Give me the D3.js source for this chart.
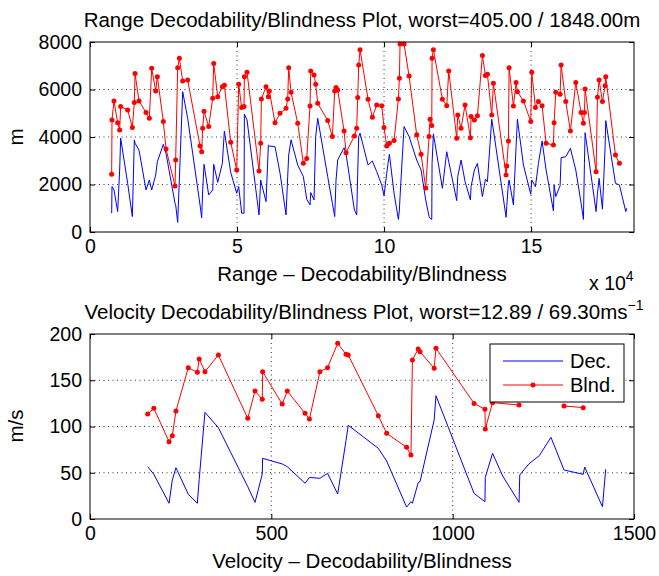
<!DOCTYPE html>
<html>
<head>
<meta charset="utf-8">
<script src="https://cdn.jsdelivr.net/npm/d3@7"></script>
<style>
  html, body { margin: 0; padding: 0; background: #fff; }
  svg { display: block; }
  text { font-family: "Liberation Sans", Arial, Helvetica, sans-serif; fill: #000; }
</style>
</head>
<body>
<svg id="fig" width="659" height="576"></svg>
<script>
// ---- Range decodability / blindness (m) ----
const rangeX = [7370, 7480, 8160, 9410, 10090, 10430, 12810, 14400, 15080, 15310, 16670, 19050, 20180, 20980, 22340, 22900, 24940, 25850, 28910, 29140, 29820, 30390, 31520, 33220, 37420, 37980, 38320, 38780, 40360, 41730, 42070, 43430, 45010, 45690, 47850, 49890, 50570, 51590, 52380, 52500, 53400, 57480, 58050, 58280, 59870, 60660, 61000, 62930, 64630, 66670, 67230, 67570, 68370, 70640, 72560, 73700, 74830, 75060, 76190, 76760, 77440, 80840, 82430, 83220, 83670, 84240, 86400, 87080, 89910, 90700, 91040, 91380, 91840, 94560, 96030, 97510, 99210, 100000, 100910, 101360, 101820, 103400, 104880, 105220, 105440, 106800, 108510, 111110, 112590, 114170, 115310, 115650, 116220, 116330, 116780, 119840, 121320, 122000, 124720, 125060, 126190, 127550, 129370, 129590, 130730, 131750, 133450, 134470, 135150, 136620, 137190, 141500, 141730, 142290, 142520, 143990, 144900, 145350, 147400, 149890, 150230, 151480, 152500, 153740, 155110, 157600, 157830, 158390, 159870, 160210, 161790, 163380, 165200, 167010, 167800, 168140, 168370, 172110, 172570, 173130, 174270, 175170, 175400, 178690, 180050, 182200, 182540];
const rangeDec = [790, 1910, 1770, 860, 2610, 3950, 2050, 650, 3880, 3740, 3450, 1770, 2190, 1770, 2400, 2960, 3690, 3310, 1210, 1140, 405, 2230, 5910, 4790, 1140, 600, 1770, 2850, 1560, 1770, 2850, 2090, 2890, 4250, 2510, 1630, 1910, 790, 790, 4960, 4720, 720, 2190, 2050, 1280, 3660, 3620, 3590, 2470, 720, 2330, 3240, 3880, 2820, 2330, 1380, 1140, 1660, 1350, 4020, 4790, 2330, 1210, 650, 2190, 3030, 3550, 3290, 930, 720, 2470, 4020, 4160, 2820, 2990, 2540, 1980, 1530, 2470, 2890, 3270, 1630, 530, 930, 1490, 4440, 4020, 3030, 2610, 1350, 650, 580, 530, 2890, 4130, 1840, 3380, 2960, 1320, 2330, 3030, 2120, 1350, 1910, 2610, 2890, 1490, 2220, 2120, 4750, 4300, 620, 1070, 2050, 2190, 1140, 3590, 4750, 2820, 1590, 2190, 1910, 2890, 3830, 2610, 890, 1980, 1490, 1950, 3130, 3170, 3520, 2610, 1210, 530, 2890, 4180, 860, 1630, 2260, 960, 3590, 4690, 2050, 1980, 860, 1000];
const rangeBlnd = [2430, 4720, 5520, 4600, 4300, 5280, 5140, 4400, 5450, 6670, 5520, 5030, 4790, 6890, 5940, 6540, 4650, 3500, 1940, 3030, 6920, 7320, 6360, 6400, 3620, 3380, 4370, 5080, 4440, 5630, 7100, 5700, 6120, 6180, 3780, 2610, 6220, 5240, 5280, 6540, 6730, 2570, 3740, 5600, 6120, 5700, 5940, 4600, 5000, 5210, 5600, 6920, 5880, 4580, 2890, 3100, 5310, 6780, 6610, 6220, 5420, 4690, 4020, 5940, 6080, 5980, 4250, 3340, 4040, 4370, 5660, 7030, 7670, 5590, 4830, 5350, 5320, 4400, 3620, 3710, 3740, 3850, 5600, 6470, 7920, 7920, 6570, 4090, 3270, 1848, 4020, 4750, 4480, 7320, 7670, 5590, 5320, 6780, 3950, 4930, 4370, 5350, 3970, 4860, 4720, 4890, 7430, 6590, 6640, 4930, 6260, 2400, 2780, 3830, 6920, 5310, 6290, 5910, 5520, 4650, 6730, 5240, 5490, 5320, 3740, 3660, 4600, 5880, 5800, 7030, 5490, 4250, 6300, 5030, 4580, 5030, 6020, 2540, 5670, 6400, 5490, 6160, 6540, 3240, 2890, null, null];
const rangeXTicks = [0, 50000, 100000, 150000];
const rangeYTicks = [0, 2000, 4000, 6000, 8000];

// ---- Velocity decodability / blindness (m/s) ----
const velDecX = [159, 176, 218, 227, 237, 271, 296, 301, 317, 354, 435, 455, 475, 476, 530, 544, 593, 605, 634, 655, 683, 706, 712, 795, 818, 873, 885, 889, 905, 910, 949, 954, 1059, 1089, 1090, 1110, 1138, 1183, 1185, 1210, 1239, 1271, 1307, 1360, 1364, 1413, 1422];
const velDec = [56.6, 48.3, 17, 42.2, 55.5, 26.7, 17, 42.5, 115.3, 98.7, 35, 18, 48.6, 65.6, 59.5, 56.6, 38.6, 45, 44, 49.4, 27, 85, 101.3, 76.4, 62.7, 12.89, 18.7, 17, 39.3, 40.4, 107, 133.3, 27.7, 18.7, 45, 71, 46.5, 18, 47.6, 59.5, 68.5, 88.3, 53, 48.3, 56.2, 13.3, 53.7];
const velBlndX = [159, 176, 218, 227, 237, 271, 296, 301, 317, 354, 435, 455, 475, 476, 530, 544, 593, 605, 634, 655, 683, 706, 712, 795, 818, 873, 885, 889, 905, 910, 949, 954, 1059, 1089, 1090, 1110, 1183, 1185, 1307, 1360];
const velBlnd = [113.5, 119.6, 83.6, 90.1, 116.8, 163.6, 158.6, 173, 159.3, 177.3, 108.8, 138.4, 129.4, 159.3, 124.3, 138.4, 114.2, 108.1, 159.3, 163.6, 189.9, 178, 177.3, 111.7, 92.6, 77.5, 69.3, 171.9, 183.8, 180.9, 162.9, 184.5, 125, 118.6, 97.3, 125.8, 123.2, null, 122.2, 120.4];
const velXTicks = [0, 500, 1000, 1500];
const velYTicks = [0, 50, 100, 150, 200];

const legendLabels = ["Dec.", "Blnd."];

const svg = d3.select("#fig");
svg.append("rect").attr("width", 659).attr("height", 576).attr("fill", "#fff");

const FS = 19.5;      // tick labels
const FT = 20.5;      // titles and axis labels
const DEC = "#0000ff", BLND = "#ff0000";

function panel(opt) {
  const { left, right, top, bottom } = opt.box;
  const x = d3.scaleLinear().domain(opt.xDomain).range([left, right]);
  const y = d3.scaleLinear().domain(opt.yDomain).range([bottom, top]);
  const g = svg.append("g");

  // dotted grid
  const grid = g.append("g").attr("stroke", "#000").attr("stroke-width", 1)
    .attr("stroke-dasharray", "1,3.5").attr("opacity", 0.8);
  opt.xTicks.filter(v => v > opt.xDomain[0] && v < opt.xDomain[1]).forEach(v => {
    grid.append("line").attr("x1", x(v)).attr("x2", x(v)).attr("y1", top).attr("y2", bottom);
  });
  opt.yTicks.filter(v => v > opt.yDomain[0] && v < opt.yDomain[1]).forEach(v => {
    grid.append("line").attr("x1", left).attr("x2", right).attr("y1", y(v)).attr("y2", y(v));
  });

  // series (null values leave a gap in the line)
  const dec = opt.decX.map((v, i) => [v, opt.dec[i]]);
  const blnd = opt.blndX.map((v, i) => [v, opt.blnd[i]]);
  const line = d3.line().defined(d => d[1] != null).x(d => x(d[0])).y(d => y(d[1]));
  g.append("path").datum(dec).attr("d", line).attr("fill", "none")
    .attr("stroke", DEC).attr("stroke-width", 1);
  g.append("path").datum(blnd).attr("d", line).attr("fill", "none")
    .attr("stroke", BLND).attr("stroke-width", 1);
  g.append("g").selectAll("circle").data(blnd.filter(d => d[1] != null)).join("circle")
    .attr("cx", d => x(d[0])).attr("cy", d => y(d[1])).attr("r", 2.5).attr("fill", BLND);

  // axes with inward ticks on all four sides
  const ax = g.append("g").attr("class", "axes");
  ax.append("g").attr("transform", `translate(0,${bottom})`)
    .call(d3.axisBottom(x).tickValues(opt.xTicks).tickFormat(opt.xFmt).tickSize(-5).tickPadding(7));
  ax.append("g").attr("transform", `translate(0,${top})`)
    .call(d3.axisTop(x).tickValues(opt.xTicks).tickFormat("").tickSize(-5));
  ax.append("g").attr("transform", `translate(${left},0)`)
    .call(d3.axisLeft(y).tickValues(opt.yTicks).tickFormat(d3.format("d")).tickSize(-5).tickPadding(8));
  ax.append("g").attr("transform", `translate(${right},0)`)
    .call(d3.axisRight(y).tickValues(opt.yTicks).tickFormat("").tickSize(-5));
  ax.selectAll(".domain").remove();
  ax.selectAll(".tick line").attr("stroke", "#000");
  ax.selectAll(".tick text").attr("font-size", FS).attr("font-family", null).attr("fill", "#000");
  g.append("rect").attr("x", left).attr("y", top).attr("width", right - left).attr("height", bottom - top)
    .attr("fill", "none").attr("stroke", "#000").attr("stroke-width", 1);
  return { x, y, g };
}

// upper panel: range
panel({
  box: { left: 90, right: 634, top: 42, bottom: 232 },
  xDomain: [0, 185000], yDomain: [0, 8000],
  xTicks: rangeXTicks, yTicks: rangeYTicks,
  xFmt: d => String(d / 1e4),
  decX: rangeX, dec: rangeDec, blndX: rangeX, blnd: rangeBlnd
});
svg.append("text").attr("x", 362).attr("y", 27).attr("text-anchor", "middle").attr("font-size", FT)
  .text("Range Decodability/Blindness Plot, worst=405.00 / 1848.00m");
svg.append("text").attr("x", 362).attr("y", 281).attr("text-anchor", "middle").attr("font-size", FT)
  .text("Range – Decodability/Blindness");
svg.append("text").attr("transform", "translate(23,137) rotate(-90)").attr("text-anchor", "middle")
  .attr("font-size", FT).text("m");
const mult = svg.append("text").attr("x", 589).attr("y", 290).attr("font-size", FS);
mult.append("tspan").text("x 10");
mult.append("tspan").attr("dy", -9).attr("font-size", 14).text("4");

// lower panel: velocity
panel({
  box: { left: 90, right: 634, top: 334, bottom: 519 },
  xDomain: [0, 1500], yDomain: [0, 200],
  xTicks: velXTicks, yTicks: velYTicks,
  xFmt: d3.format("d"),
  decX: velDecX, dec: velDec, blndX: velBlndX, blnd: velBlnd
});
const t2 = svg.append("text").attr("x", 364).attr("y", 319).attr("text-anchor", "middle").attr("font-size", FT);
t2.append("tspan").text("Velocity Decodability/Blindness Plot, worst=12.89 / 69.30ms");
t2.append("tspan").attr("dy", -9).attr("font-size", 14).text("−1");
svg.append("text").attr("x", 362).attr("y", 568).attr("text-anchor", "middle").attr("font-size", FT)
  .text("Velocity – Decodability/Blindness");
svg.append("text").attr("transform", "translate(23,426) rotate(-90)").attr("text-anchor", "middle")
  .attr("font-size", FT).text("m/s");

// legend
const lg = svg.append("g");
lg.append("rect").attr("x", 490).attr("y", 344).attr("width", 134).attr("height", 58)
  .attr("fill", "#fff").attr("stroke", "#000").attr("stroke-width", 1);
const colors = [DEC, BLND];
legendLabels.forEach((lab, i) => {
  const yy = 361 + i * 24;
  lg.append("line").attr("x1", 503).attr("x2", 563).attr("y1", yy).attr("y2", yy)
    .attr("stroke", colors[i]).attr("stroke-width", 1);
  if (i === 1) lg.append("circle").attr("cx", 533).attr("cy", yy).attr("r", 2.5).attr("fill", BLND);
  lg.append("text").attr("x", 570).attr("y", yy + 7).attr("font-size", 20).text(lab);
});
</script>
</body>
</html>
